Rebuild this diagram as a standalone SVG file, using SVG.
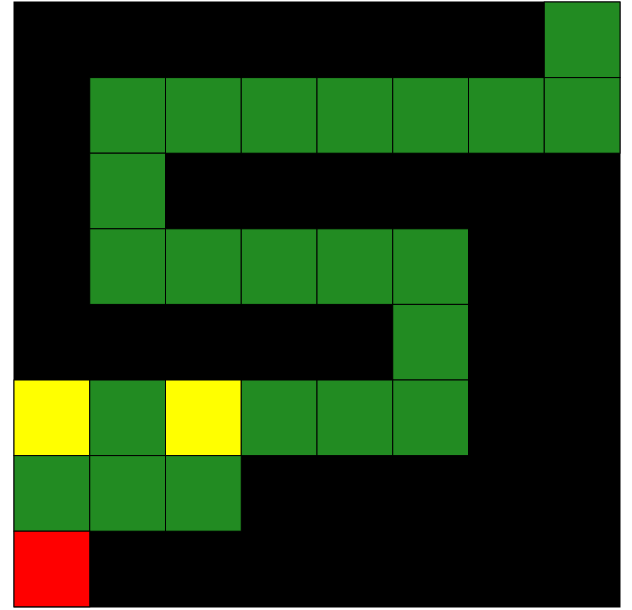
<svg xmlns="http://www.w3.org/2000/svg" width="632" height="610" viewBox="0 0 632 610">
<style>
.k,.g,.y,.r{stroke:#000;stroke-width:1}
.k{fill:#000}
.g{fill:#228B22}
.y{fill:#FFFF00}
.r{fill:#FF0000}
</style>
<rect width="632" height="610" fill="#fff"/>
<g id="grid">
<rect class="k" x="14" y="2" width="606" height="605"/>
<g id="r0"><rect class="g" x="544.25" y="2" width="75.75" height="75.6"/></g>
<g id="r1">
<rect class="g" x="89.75" y="77.6" width="75.75" height="75.6"/>
<rect class="g" x="165.5" y="77.6" width="75.75" height="75.6"/>
<rect class="g" x="241.25" y="77.6" width="75.75" height="75.6"/>
<rect class="g" x="317" y="77.6" width="75.75" height="75.6"/>
<rect class="g" x="392.75" y="77.6" width="75.75" height="75.6"/>
<rect class="g" x="468.5" y="77.6" width="75.75" height="75.6"/>
<rect class="g" x="544.25" y="77.6" width="75.75" height="75.6"/>
</g>
<g id="r2"><rect class="g" x="89.75" y="153.2" width="75.75" height="75.6"/></g>
<g id="r3">
<rect class="g" x="89.75" y="228.8" width="75.75" height="75.6"/>
<rect class="g" x="165.5" y="228.8" width="75.75" height="75.6"/>
<rect class="g" x="241.25" y="228.8" width="75.75" height="75.6"/>
<rect class="g" x="317" y="228.8" width="75.75" height="75.6"/>
<rect class="g" x="392.75" y="228.8" width="75.75" height="75.6"/>
</g>
<g id="r4"><rect class="g" x="392.75" y="304.4" width="75.75" height="75.6"/></g>
<g id="r5">
<rect class="y" x="14" y="380" width="75.75" height="75.6"/>
<rect class="g" x="89.75" y="380" width="75.75" height="75.6"/>
<rect class="y" x="165.5" y="380" width="75.75" height="75.6"/>
<rect class="g" x="241.25" y="380" width="75.75" height="75.6"/>
<rect class="g" x="317" y="380" width="75.75" height="75.6"/>
<rect class="g" x="392.75" y="380" width="75.75" height="75.6"/>
</g>
<g id="r6">
<rect class="g" x="14" y="455.6" width="75.75" height="75.6"/>
<rect class="g" x="89.75" y="455.6" width="75.75" height="75.6"/>
<rect class="g" x="165.5" y="455.6" width="75.75" height="75.6"/>
</g>
<g id="r7"><rect class="r" x="14" y="531.2" width="75.75" height="75.6"/></g>
</g>
<g id="connectors"/>
</svg>
